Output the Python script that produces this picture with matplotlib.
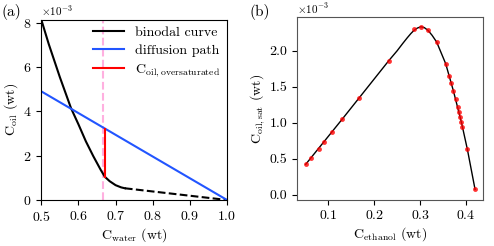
import matplotlib
matplotlib.use("Agg")
import matplotlib.pyplot as plt

plt.rcParams["font.family"] = "serif"
plt.rcParams["font.serif"] = ["cmr10"]
plt.rcParams["mathtext.fontset"] = "cm"
plt.rcParams["axes.formatter.use_mathtext"] = True
plt.rcParams["font.size"] = 10

# panel (a): binodal curve (solid part and dashed extension), in wt
binodal_x = [0.50, 0.52, 0.55, 0.58, 0.60, 0.62, 0.64, 0.66, 0.671, 0.684, 0.70, 0.715, 0.725]
binodal_y = [8.15, 7.05, 5.55, 4.15, 3.42, 2.65, 1.98, 1.36, 1.05, 0.85, 0.67, 0.57, 0.53]
binodal_dash_x = [0.725, 1.0]
binodal_dash_y = [0.53, 0.0]
path_x = [0.5, 1.0]
path_y = [4.91, 0.0]
over_x = [0.671, 0.671]
over_y = [1.05, 3.23]
x_limit = 0.667
water_ticks = [0.5, 0.6, 0.7, 0.8, 0.9, 1.0]

# panel (b): measured saturation points and fitted curve
eth = [0.0508, 0.0617, 0.079, 0.0906, 0.1074, 0.1305, 0.1669, 0.2316, 0.2867,
       0.3013, 0.3172, 0.336, 0.3557, 0.3636, 0.368, 0.3724, 0.3775, 0.3819,
       0.3848, 0.387, 0.3898, 0.392, 0.4029, 0.4196]
sat = [0.422, 0.51, 0.639, 0.732, 0.867, 1.051, 1.347, 1.861, 2.297,
       2.333, 2.283, 2.121, 1.82, 1.649, 1.556, 1.444, 1.333, 1.214,
       1.149, 1.079, 1.01, 0.94, 0.63, 0.075]
fit_x = [0.0508, 0.1305, 0.2316, 0.25, 0.262, 0.272, 0.28, 0.287, 0.294, 0.3013,
         0.309, 0.3172, 0.326, 0.336, 0.3557, 0.3724, 0.3898, 0.4029, 0.4196]
fit_y = [0.422, 1.051, 1.861, 2.0, 2.1, 2.18, 2.24, 2.285, 2.315, 2.333,
         2.322, 2.283, 2.215, 2.121, 1.82, 1.444, 1.01, 0.63, 0.075]

fig = plt.figure(figsize=(4.94, 2.46), dpi=100)
ax1 = fig.add_axes([0.0836, 0.187, 0.376, 0.733])
ax2 = fig.add_axes([0.6018, 0.188, 0.376, 0.7415])

s = 1e-3
ax1.axvline(x_limit, color="#ffb0e0", ls="--", lw=1.5)
ax1.plot(binodal_x, [v * s for v in binodal_y], color="black", lw=1.5, label="binodal curve")
ax1.plot(binodal_dash_x, [v * s for v in binodal_dash_y], color="black", lw=1.5, ls="--")
ax1.plot(path_x, [v * s for v in path_y], color="#2255ff", lw=1.5, label="diffusion path")
ax1.plot(over_x, [v * s for v in over_y], color="red", lw=1.5,
         label=r"$\mathrm{C_{oil,oversaturated}}$")
ax1.set_xlim(0.5, 1.0)
ax1.set_ylim(0, 8.15e-3)
ax1.set_xticks(water_ticks)
ax1.set_yticks([0, 2e-3, 4e-3, 6e-3, 8e-3])
ax1.ticklabel_format(axis="y", style="sci", scilimits=(-3, -3))
ax1.yaxis.get_offset_text().set_fontsize(8)
ax1.set_xlabel(r"$\mathrm{C_{water}}$ (wt)", labelpad=2)
ax1.set_ylabel(r"$\mathrm{C_{oil}}$ (wt)", labelpad=2)
ax1.legend(loc="upper right", frameon=False, fontsize=10, borderaxespad=0.1,
           handletextpad=0.8, labelspacing=0.35, handlelength=2.2)

ax2.plot(fit_x, [v * s for v in fit_y], color="black", lw=1.0)
ax2.plot(eth, [v * s for v in sat], "o", color="red", ms=3.5, alpha=0.8, mec="none")
ax2.set_xlim(0.0325, 0.437)
ax2.set_ylim(-0.07e-3, 2.464e-3)
ax2.set_xticks([0.1, 0.2, 0.3, 0.4])
ax2.set_yticks([0, 0.5e-3, 1e-3, 1.5e-3, 2e-3])
ax2.yaxis.set_major_formatter(matplotlib.ticker.FuncFormatter(lambda v, p: "%.1f" % (v * 1e3)))
ax2.text(0.0, 1.01, r"$\times10^{-3}$", transform=ax2.transAxes, fontsize=8, va="bottom")
for sp in ax2.spines.values():
    sp.set_color("#555555")
ax2.set_xlabel(r"$\mathrm{C_{ethanol}}$ (wt)", labelpad=2)
ax2.set_ylabel(r"$\mathrm{C_{oil,sat}}$ (wt)", labelpad=2)

fig.text(0.004, 0.95, "(a)", fontsize=11, va="center")
fig.text(0.506, 0.95, "(b)", fontsize=11, va="center")

fig.savefig("out.png", dpi=100)
